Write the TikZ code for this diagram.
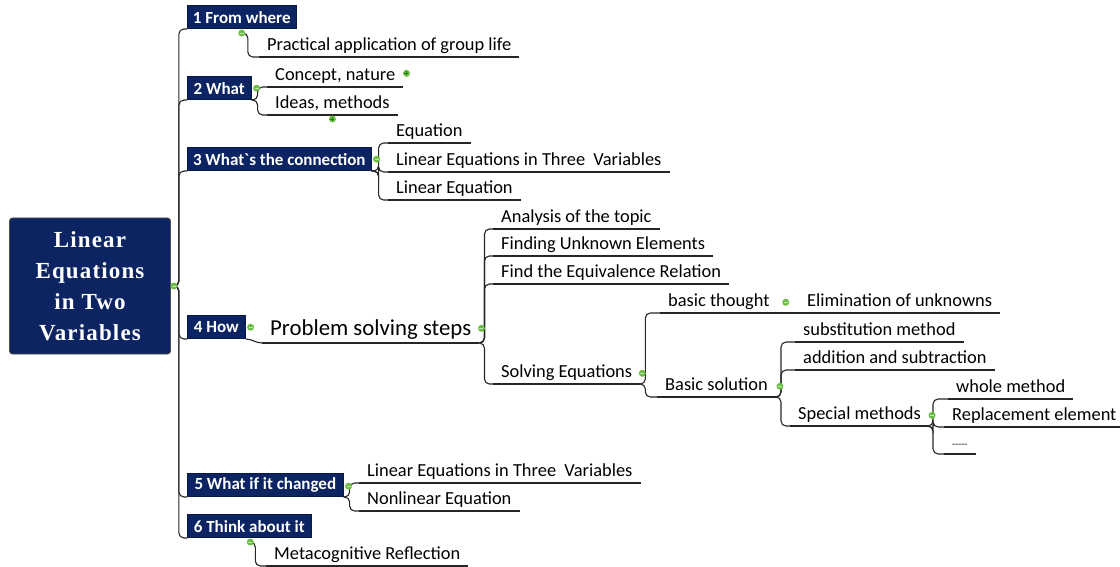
\documentclass[tikz,border=0pt]{standalone}
\usepackage{fontspec}
\newfontfamily\cf{Carlito}
\newfontfamily\rf{Liberation Serif}[LetterSpace=5]
\definecolor{mmnavy}{HTML}{0C2461}
\definecolor{dotgreen}{HTML}{6CBD45}
\begin{document}
\begin{tikzpicture}[x=1pt,y=-1pt,
  topic/.style={anchor=south west, font=\cf\fontsize{18.4}{20}\selectfont, inner xsep=8pt, inner ysep=1.5pt, text height=13.5pt, text depth=4.5pt},
  bigtopic/.style={topic, font=\cf\fontsize{22.8}{24}\selectfont, text height=16.5pt, text depth=5.5pt},
  box/.style={anchor=south west, fill=mmnavy, draw=mmnavy!70!black, line width=0.6pt, text=white, font=\cf\bfseries\fontsize{17}{19}\selectfont, minimum height=23pt, inner xsep=4pt, inner ysep=0pt},
  root/.style={fill=mmnavy, draw=black!70, line width=0.8pt, rounded corners=3pt, minimum width=161pt, minimum height=136pt, text=white, align=center, font=\rf\bfseries\fontsize{23}{31}\selectfont},
  conn/.style={draw=black!85, line width=1.1pt, rounded corners=5pt},
  uline/.style={draw=black!85, line width=1.1pt},
  dot/.style={circle, fill=dotgreen, inner sep=0pt, minimum size=7pt,
    path picture={\draw[white!60!dotgreen, line width=0.9pt] ([xshift=-2pt]path picture bounding box.center) -- ([xshift=2pt]path picture bounding box.center);}},
  plusdot/.style={circle, fill=dotgreen, inner sep=0pt, minimum size=7pt,
    path picture={\draw[green!45!black!80!dotgreen, line width=0.9pt] ([xshift=-2pt]path picture bounding box.center) -- ([xshift=2pt]path picture bounding box.center) ([yshift=-2pt]path picture bounding box.center) -- ([yshift=2pt]path picture bounding box.center);}}
]
\useasboundingbox (0,0) rectangle (1120,567);

% root
\node[root] (rt) at (90,286) {Linear\\Equations\\in Two\\Variables};

% main branches
\node[box, minimum width=109pt] (b1) at (187,29) {1 From where};
\node[box, minimum width=64pt] (b2) at (187,100) {2 What};
\node[box, minimum width=184pt] (b3) at (187,171) {3 What`s the connection};
\node[box, minimum width=58pt] (b4) at (187,339) {4 How};
\node[box, minimum width=156pt] (b5) at (187,497) {5 What if it changed};
\node[box, minimum width=124pt] (b6) at (187,538) {6 Think about it};

% topics
\node[topic] (c1) at (259,57) {Practical application of group life};
\node[topic] (ca) at (267,87) {Concept, nature};
\node[topic] (ib) at (267,115) {Ideas, methods};
\node[topic] (e1) at (388,143) {Equation};
\node[topic] (e2) at (388,172) {Linear Equations in Three\ \ Variables};
\node[topic] (e3) at (388,200) {Linear Equation};
\node[bigtopic] (ps) at (262,343) {Problem solving steps};
\node[topic] (s1) at (493,229) {Analysis of the topic};
\node[topic] (s2) at (493,256) {Finding Unknown Elements};
\node[topic] (s3) at (493,284) {Find the Equivalence Relation};
\node[topic] (se) at (493,384) {Solving Equations};
\node[topic] (bt) at (660,313) {basic thought};
\node[topic] (el) at (799,313) {Elimination of unknowns};
\node[topic] (bs) at (657,397) {Basic solution};
\node[topic] (m1) at (795,342) {substitution method};
\node[topic] (m2) at (795,370) {addition and subtraction};
\node[topic] (sm) at (790,426) {Special methods};
\node[topic] (w1) at (948,399) {whole method};
\node[topic] (w2) at (944,427) {Replacement element};
\node[topic, font=\cf\fontsize{10}{12}\selectfont] (w3) at (944,454) {-----};
\node[topic] (f1) at (359,483) {Linear Equations in Three\ \ Variables};
\node[topic] (f2) at (359,511) {Nonlinear Equation};
\node[topic] (g1) at (266,566) {Metacognitive Reflection};

% underlines
\foreach \n in {c1,ca,ib,e1,e2,e3,ps,s1,s2,s3,se,bt,el,bs,m1,m2,sm,w1,w2,w3,f1,f2,g1}
  \draw[uline] (\n.south west) -- (\n.south east);

% marker positions
\coordinate (rdp) at ([xshift=3pt]rt.east);
\coordinate (d1p) at ([yshift=-4pt]b1.south);
\coordinate (d6p) at ([xshift=1pt,yshift=-4pt]b6.south);

% trunk connectors
\foreach \b in {b1,b2,b3,b4,b5,b6}
  \draw[conn] (rdp) -- ++(5,0) |- (\b.south west);

% branch connectors
\draw[conn] (d1p) -- ++(6,0) |- (c1.south west);
\foreach \c in {ca,ib} \draw[conn] (b2.south east) -- ++(6,0) |- (\c.south west);
\foreach \c in {e1,e2,e3} \draw[conn] (b3.south east) -- ++(7,0) |- (\c.south west);
\draw[draw=black!85, line width=1.1pt] (b4.south east) to[out=0,in=180] (ps.south west);
\foreach \c in {s1,s2,s3,se} \draw[conn] (ps.south east) -- ++(5,0) |- (\c.south west);
\foreach \c in {bt,bs} \draw[conn] (se.south east) -- ++(5,0) |- (\c.south west);
\draw[conn] (bt.south east) -- (el.south west);
\foreach \c in {m1,m2,sm} \draw[conn] (bs.south east) -- ++(5,0) |- (\c.south west);
\foreach \c in {w1,w2,w3} \draw[conn] (sm.south east) -- ++(4,0) |- (\c.south west);
\foreach \c in {f1,f2} \draw[conn] (b5.south east) -- ++(6,0) |- (\c.south west);
\draw[conn] (d6p) -- ++(5,0) |- (g1.south west);

% green markers
\node[dot] (rd) at (rdp) {};
\node[dot] (d1) at (d1p) {};
\node[dot] (d6) at (d6p) {};
\node[dot] (d2) at ([xshift=5pt]b2.east) {};
\node[dot] (d3) at ([xshift=5pt]b3.east) {};
\node[dot] (d4) at ([xshift=5pt]b4.east) {};
\node[dot] (d5) at ([xshift=5pt,yshift=-1pt]b5.east) {};
\node[plusdot] (dca) at ([xshift=3pt,yshift=3pt]ca.east) {};
\node[plusdot] (dib) at ([yshift=-4pt]ib.south) {};
\node[dot] (dps) at ([xshift=2pt,yshift=2pt]ps.east) {};
\node[dot] (dse) at ([xshift=2pt]se.east) {};
\node[dot] (dbt) at ([xshift=8pt]bt.east) {};
\node[dot] (dbs) at ([xshift=4pt]bs.east) {};
\node[dot] (dsm) at ([xshift=3pt]sm.east) {};
\end{tikzpicture}
\end{document}
